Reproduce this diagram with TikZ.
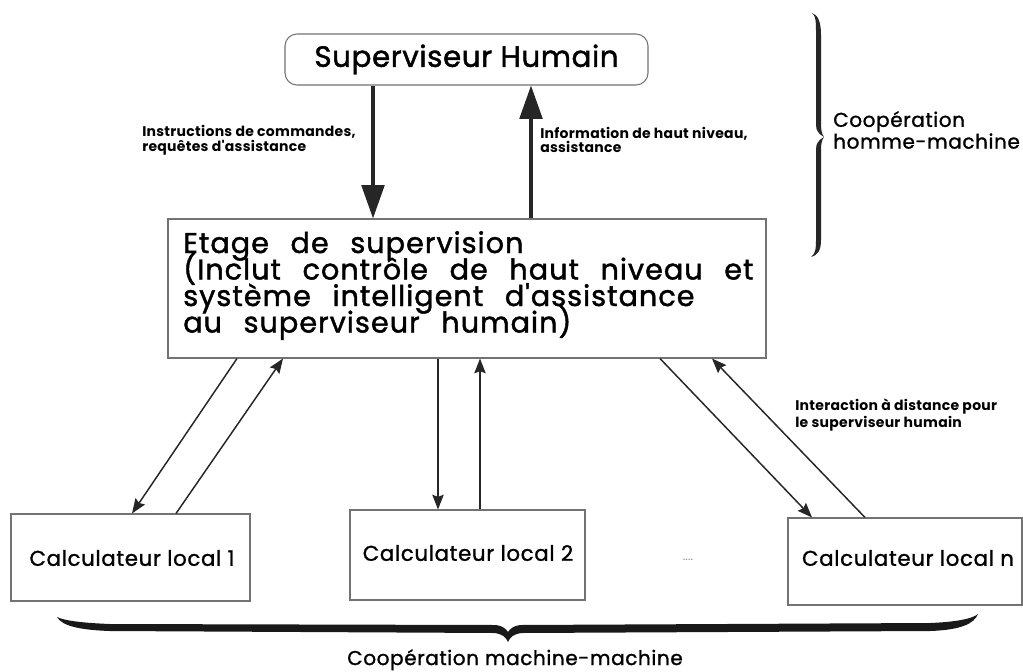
\documentclass[tikz,border=0pt]{standalone}
\usepackage{fontspec}
\setmainfont{Poppins}
\newfontfamily\titlefont{Poppins}[FakeBold=1.5, LetterSpace=2]
\newfontfamily\stagefont{Poppins}[FakeBold=1.5, LetterSpace=3.5, WordSpace=2.5]
\newfontfamily\calcfont{Poppins}[FakeBold=1.2, LetterSpace=3]
\newfontfamily\notefont{Poppins}[LetterSpace=2]
\usetikzlibrary{arrows.meta,calc}

\begin{document}
\begin{tikzpicture}[x=0.75pt,y=-0.75pt,
  box/.style={draw=black!55, line width=0.8pt, fill=white, inner sep=0pt},
  bigarrow/.style={line width=2.4pt, black!85, -{Triangle[length=25pt,width=17pt]}},
  thinarrow/.style={line width=1.1pt, black!85, -{Stealth[length=11pt,width=8.5pt,inset=1.5pt]}},
  smalllabel/.style={font=\notefont\bfseries\fontsize{10.5}{11}\selectfont, align=left, anchor=west, inner sep=0pt},
  boxtext/.style={font=\calcfont\fontsize{16}{18}\selectfont, inner sep=0pt},
  bracelabel/.style={font=\calcfont\fontsize{15}{15}\selectfont, inner sep=0pt},
  stageline/.style={font=\stagefont\fontsize{21.5}{20}\selectfont, anchor=base west, inner sep=0pt}
]
\useasboundingbox[fill=white] (0,0) rectangle (1023,671);

% ---- boxes ----
\node[box, rounded corners=9pt, minimum width=363*0.75pt, minimum height=51*0.75pt,
      font=\titlefont\fontsize{22}{24}\selectfont] (sup) at (466.5,59.5) {Superviseur Humain};

\node[box, minimum width=598*0.75pt, minimum height=139*0.75pt] (etage) at (467,288.5) {};
\node[stageline] (et1) at (183,253) {Etage de supervision};
\node[stageline] (et2) at (183,279.5) {(Inclut contrôle de haut niveau et};
\node[stageline] (et3) at (183,306) {système intelligent d'assistance};
\node[stageline] (et4) at (183,332.5) {au superviseur humain)};

\node[box, minimum width=239*0.75pt, minimum height=87*0.75pt] (c1) at (130.5,557.5) {};
\node[boxtext] (c1t) at (132,558) {Calculateur local 1};
\node[box, minimum width=235*0.75pt, minimum height=90*0.75pt] (c2) at (467.5,555) {};
\node[boxtext] (c2t) at (468,553) {Calculateur local 2};
\node[box, minimum width=234*0.75pt, minimum height=87*0.75pt] (cn) at (905,561.5) {};
\node[boxtext] (cnt) at (908,558) {Calculateur local n};
\node[font=\fontsize{9}{10}\selectfont, text=black!45, inner sep=0pt] (dots) at (688,560) {....};

% ---- x positions of the connectors ----
\coordinate (xdown) at (373,0);
\coordinate (xup) at (531,0);
\coordinate (xa1) at (237,0);  \coordinate (xa2) at (132,0);
\coordinate (xb1) at (176,0);  \coordinate (xb2) at (283,0);
\coordinate (xm1) at (438,0);  \coordinate (xm2) at (480,0);
\coordinate (xc1) at (660,0);  \coordinate (xc2) at (812,0);
\coordinate (xd1) at (865,0);  \coordinate (xd2) at (712,0);

% ---- human / supervision level ----
\draw[bigarrow] (xdown |- sup.south) -- (xdown |- etage.north);
\draw[bigarrow] (xup |- etage.north) -- (xup |- sup.south);

% ---- supervision level / local computers ----
\draw[thinarrow] (xa1 |- etage.south) -- (xa2 |- c1.north);
\draw[thinarrow] (xb1 |- c1.north) -- (xb2 |- etage.south);
\draw[thinarrow] (xm1 |- etage.south) -- (xm1 |- c2.north);
\draw[thinarrow] (xm2 |- c2.north) -- (xm2 |- etage.south);
\draw[thinarrow] (xc1 |- etage.south) -- (xc2 |- cn.north);
\draw[thinarrow] (xd1 |- cn.north) -- (xd2 |- etage.south);

% ---- labels ----
\node[smalllabel] (lcmd) at (142,140) {Instructions de commandes,\\requêtes d'assistance};
\node[smalllabel] (linfo) at (540,140) {Information de haut niveau,\\assistance};
\node[smalllabel] (linter) at (795,415) {Interaction à distance pour\\le superviseur humain};

% ---- braces ----
\fill[black!85] (812,13) .. controls (816,16) and (816,22) .. (816,35) -- (816,125)
  .. controls (816,131) and (819,134) .. (824,137)
  .. controls (819,140) and (816,143) .. (816,149) -- (816,240)
  .. controls (816,250) and (815,254) .. (811,257)
  .. controls (818,255) and (821,250) .. (821,240) -- (821,150)
  .. controls (821,143) and (822,140) .. (824,137)
  .. controls (822,134) and (821,131) .. (821,124) -- (821,35)
  .. controls (821,22) and (818,15) .. (812,13) -- cycle;
\node[bracelabel, align=left, anchor=west] (hm) at (833,130) {Coopération\\homme-machine};

\fill[black!90] (57,617) .. controls (65,621) and (85,623) .. (110,624) -- (496,625)
  .. controls (503,626) and (506,629) .. (508,632)
  .. controls (510,629) and (513,626) .. (520,625) -- (930,623)
  .. controls (955,622) and (972,619) .. (978,614)
  .. controls (974,624) and (960,630) .. (930,631) -- (521,633)
  .. controls (514,634) and (510,637) .. (508,642)
  .. controls (506,637) and (502,634) .. (495,633) -- (110,631)
  .. controls (80,630) and (62,626) .. (57,617) -- cycle;
\node[bracelabel, anchor=base] (mm) at (515,665) {Coopération machine-machine};
\end{tikzpicture}
\end{document}
